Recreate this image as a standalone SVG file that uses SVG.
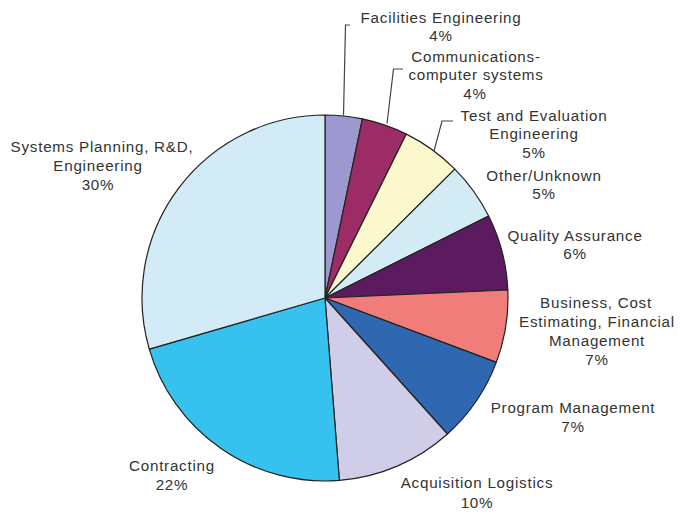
<svg xmlns="http://www.w3.org/2000/svg" width="680" height="515" viewBox="0 0 680 515">
<style>
.s{stroke:#222;stroke-width:1.2;stroke-linejoin:round}
text{font-family:"Liberation Sans",Arial,sans-serif;font-size:15.2px;letter-spacing:0.75px;fill:#333;text-anchor:middle}
.ld{fill:none;stroke:#444;stroke-width:1.2}
</style>
<rect width="680" height="515" fill="#fff"/>
<g id="slices">
<g id="facilities"><path class="s" fill="#9d98cf" d="M325 298 L325 115 A183 183 0 0 1 362.42 118.86 Z"/></g>
<g id="comms"><path class="s" fill="#9b2c65" d="M325 298 L362.42 118.86 A183 183 0 0 1 406.36 134.09 Z"/></g>
<g id="test"><path class="s" fill="#fbf8cd" d="M325 298 L406.36 134.09 A183 183 0 0 1 454.86 169.06 Z"/></g>
<g id="other"><path class="s" fill="#d3ebf5" d="M325 298 L454.86 169.06 A183 183 0 0 1 488.64 216.05 Z"/></g>
<g id="quality"><path class="s" fill="#5c1b5e" d="M325 298 L488.64 216.05 A183 183 0 0 1 507.82 290.02 Z"/></g>
<g id="business"><path class="s" fill="#f07d7a" d="M325 298 L507.82 290.02 A183 183 0 0 1 496.31 362.38 Z"/></g>
<g id="program"><path class="s" fill="#2f67b1" d="M325 298 L496.31 362.38 A183 183 0 0 1 447.45 433.99 Z"/></g>
<g id="acquisition"><path class="s" fill="#d0cde8" d="M325 298 L447.45 433.99 A183 183 0 0 1 339.36 480.43 Z"/></g>
<g id="contracting"><path class="s" fill="#36c1ef" d="M325 298 L339.36 480.43 A183 183 0 0 1 149.27 349.06 Z"/></g>
<g id="systems"><path class="s" fill="#d3ebf6" d="M325 298 L149.27 349.06 A183 183 0 0 1 325 115 Z"/></g>
</g>
<g id="connectors">
<polyline class="ld" points="350,25 345.5,25 343.5,115.5"/>
<polyline class="ld" points="403,69 393.5,69 387,123.5"/>
<polyline class="ld" points="453,121 442,121 434,151"/>
</g>
<g id="labels">
<text x="441" y="23">Facilities Engineering</text>
<text x="441" y="41">4%</text>
<text x="476" y="62">Communications-</text>
<text x="476" y="80">computer systems</text>
<text x="475" y="99">4%</text>
<text x="534" y="121">Test and Evaluation</text>
<text x="534" y="139">Engineering</text>
<text x="534" y="158">5%</text>
<text x="544" y="181">Other/Unknown</text>
<text x="544" y="199">5%</text>
<text x="575" y="241">Quality Assurance</text>
<text x="575" y="259">6%</text>
<text x="596" y="308">Business, Cost</text>
<text x="597" y="327">Estimating, Financial</text>
<text x="597" y="346">Management</text>
<text x="597" y="365">7%</text>
<text x="573" y="413">Program Management</text>
<text x="573" y="432">7%</text>
<text x="477" y="488">Acquisition Logistics</text>
<text x="477" y="508">10%</text>
<text x="172" y="471">Contracting</text>
<text x="172" y="490">22%</text>
<text x="102" y="152">Systems Planning, R&amp;D,</text>
<text x="98" y="171">Engineering</text>
<text x="98" y="190">30%</text>
</g>
</svg>
